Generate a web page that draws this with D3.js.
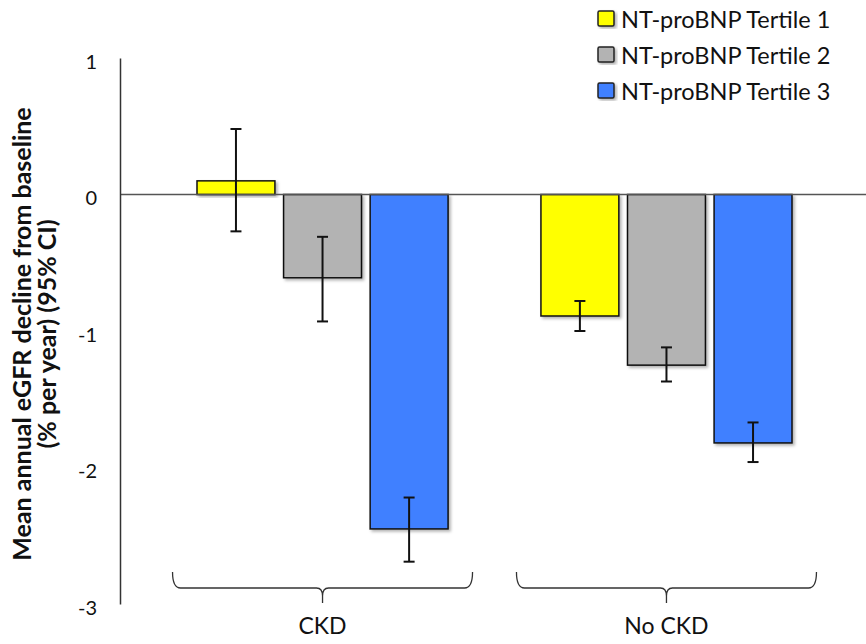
<!DOCTYPE html>
<html>
<head>
<meta charset="utf-8">
<script src="https://cdn.jsdelivr.net/npm/d3@7"></script>
<style>
  html, body { margin: 0; padding: 0; background: #fff; }
  svg { display: block; font-family: Lato, "Open Sans", sans-serif; }
</style>
</head>
<body>
<div id="chart"></div>
<script>
// values
const groups = ["CKD", "No CKD"];
const tertiles = ["NT-proBNP Tertile 1", "NT-proBNP Tertile 2", "NT-proBNP Tertile 3"];
const colors = ["#ffff00", "#b3b3b3", "#4080ff"];
const meanCKD = [0.10, -0.61, -2.45];
const lowCKD = [-0.27, -0.93, -2.69];
const highCKD = [0.48, -0.31, -2.22];
const meanNoCKD = [-0.89, -1.25, -1.82];
const lowNoCKD = [-1.00, -1.37, -1.96];
const highNoCKD = [-0.78, -1.12, -1.67];
const yTicks = [1, 0, -1, -2, -3];

const width = 866;
const height = 644;

const rows = [];
groups.forEach((g, gi) => {
  const m = gi === 0 ? meanCKD : meanNoCKD;
  const lo = gi === 0 ? lowCKD : lowNoCKD;
  const hi = gi === 0 ? highCKD : highNoCKD;
  tertiles.forEach((t, ti) => {
    rows.push({ group: g, tertile: t, mean: m[ti], low: lo[ti], high: hi[ti] });
  });
});

const svg = d3
  .select("#chart")
  .append("svg")
  .attr("width", width)
  .attr("height", height);

// soft drop shadow like the original office chart
const shadow = svg.append("defs").append("filter")
  .attr("id", "shadow")
  .attr("x", "-20%").attr("y", "-20%")
  .attr("width", "140%").attr("height", "140%");
shadow.append("feDropShadow")
  .attr("dx", 2).attr("dy", 2)
  .attr("stdDeviation", 1.5)
  .attr("flood-color", "#000")
  .attr("flood-opacity", 0.3);

const axisX = 120;
const y = d3.scaleLinear().domain([-3, 1]).range([604, 58]);
const x0 = d3.scaleBand().domain(groups).range([197, 792]).paddingInner(0.27);
const x1 = d3.scaleBand().domain(tertiles).range([0, x0.bandwidth()]).paddingInner(0.1);
const color = d3.scaleOrdinal().domain(tertiles).range(colors);

// bars
svg.append("g")
  .selectAll("rect")
  .data(rows)
  .join("rect")
  .attr("x", (d) => x0(d.group) + x1(d.tertile))
  .attr("y", (d) => y(Math.max(0, d.mean)))
  .attr("width", x1.bandwidth())
  .attr("height", (d) => Math.abs(y(d.mean) - y(0)))
  .attr("fill", (d) => color(d.tertile))
  .attr("stroke", "#111")
  .attr("stroke-width", 1.5)
  .attr("filter", "url(#shadow)");

// zero line
svg.append("line")
  .attr("x1", axisX)
  .attr("x2", width)
  .attr("y1", y(0))
  .attr("y2", y(0))
  .attr("stroke", "#555")
  .attr("stroke-width", 1.5);

// error bars
const err = svg.append("g")
  .attr("stroke", "#111")
  .attr("stroke-width", 2)
  .selectAll("g")
  .data(rows)
  .join("g")
  .attr("transform", (d) => `translate(${x0(d.group) + x1(d.tertile) + x1.bandwidth() / 2},0)`);
err.append("line")
  .attr("y1", (d) => y(d.low))
  .attr("y2", (d) => y(d.high));
err.append("line")
  .attr("x1", -5.5).attr("x2", 5.5)
  .attr("y1", (d) => y(d.low))
  .attr("y2", (d) => y(d.low));
err.append("line")
  .attr("x1", -5.5).attr("x2", 5.5)
  .attr("y1", (d) => y(d.high))
  .attr("y2", (d) => y(d.high));

// y axis, no tick marks
const yAxis = svg.append("g")
  .attr("transform", `translate(${axisX},0)`)
  .call(
    d3.axisLeft(y)
      .tickValues(yTicks)
      .tickSize(0)
      .tickPadding(23)
      .tickFormat((d) => String(d))
  );
yAxis.select(".domain").attr("stroke", "#333").attr("stroke-width", 1.5);
yAxis.selectAll("text")
  .attr("font-family", "Lato, sans-serif")
  .attr("font-size", 20)
  .attr("fill", "#111")
  .attr("dy", "0.5em");

// y label (two lines)
const yLabel = svg.append("text")
  .attr("transform", "translate(0,334) rotate(-90)")
  .attr("text-anchor", "middle")
  .attr("font-weight", "bold")
  .attr("font-size", 25)
  .attr("fill", "#111");
yLabel.append("tspan").attr("x", 0).attr("y", 31).text("Mean annual eGFR decline from baseline");
yLabel.append("tspan").attr("x", 0).attr("y", 56).text("(% per year) (95% CI)");

// group braces and labels
const braceHalf = 150;
const brace = (cx) => {
  const p = d3.path();
  const l = cx - braceHalf;
  const r = cx + braceHalf;
  p.moveTo(l, 572);
  p.quadraticCurveTo(l, 588, l + 8, 588);
  p.lineTo(cx - 6, 588);
  p.quadraticCurveTo(cx, 588, cx, 596);
  p.lineTo(cx, 603);
  p.moveTo(cx, 596);
  p.quadraticCurveTo(cx, 588, cx + 6, 588);
  p.lineTo(r - 8, 588);
  p.quadraticCurveTo(r, 588, r, 572);
  return p.toString();
};
const grp = svg.append("g")
  .selectAll("g")
  .data(groups)
  .join("g");
grp.append("path")
  .attr("d", (d) => brace(x0(d) + x0.bandwidth() / 2))
  .attr("fill", "none")
  .attr("stroke", "#333")
  .attr("stroke-width", 1.3);
grp.append("text")
  .attr("x", (d) => x0(d) + x0.bandwidth() / 2)
  .attr("y", 634)
  .attr("text-anchor", "middle")
  .attr("font-size", 23)
  .attr("fill", "#111")
  .text((d) => d);

// legend
const legend = svg.append("g")
  .selectAll("g")
  .data(tertiles)
  .join("g")
  .attr("transform", (d, i) => `translate(598,${11 + i * 36})`);
legend.append("rect")
  .attr("width", 16)
  .attr("height", 15)
  .attr("rx", 1.5)
  .attr("fill", (d) => color(d))
  .attr("stroke", "#222")
  .attr("stroke-width", 1.5)
  .attr("filter", "url(#shadow)");
legend.append("text")
  .attr("x", 23)
  .attr("y", 17)
  .attr("font-size", 23.5)
  .attr("fill", "#111")
  .text((d) => d);
</script>
</body>
</html>
